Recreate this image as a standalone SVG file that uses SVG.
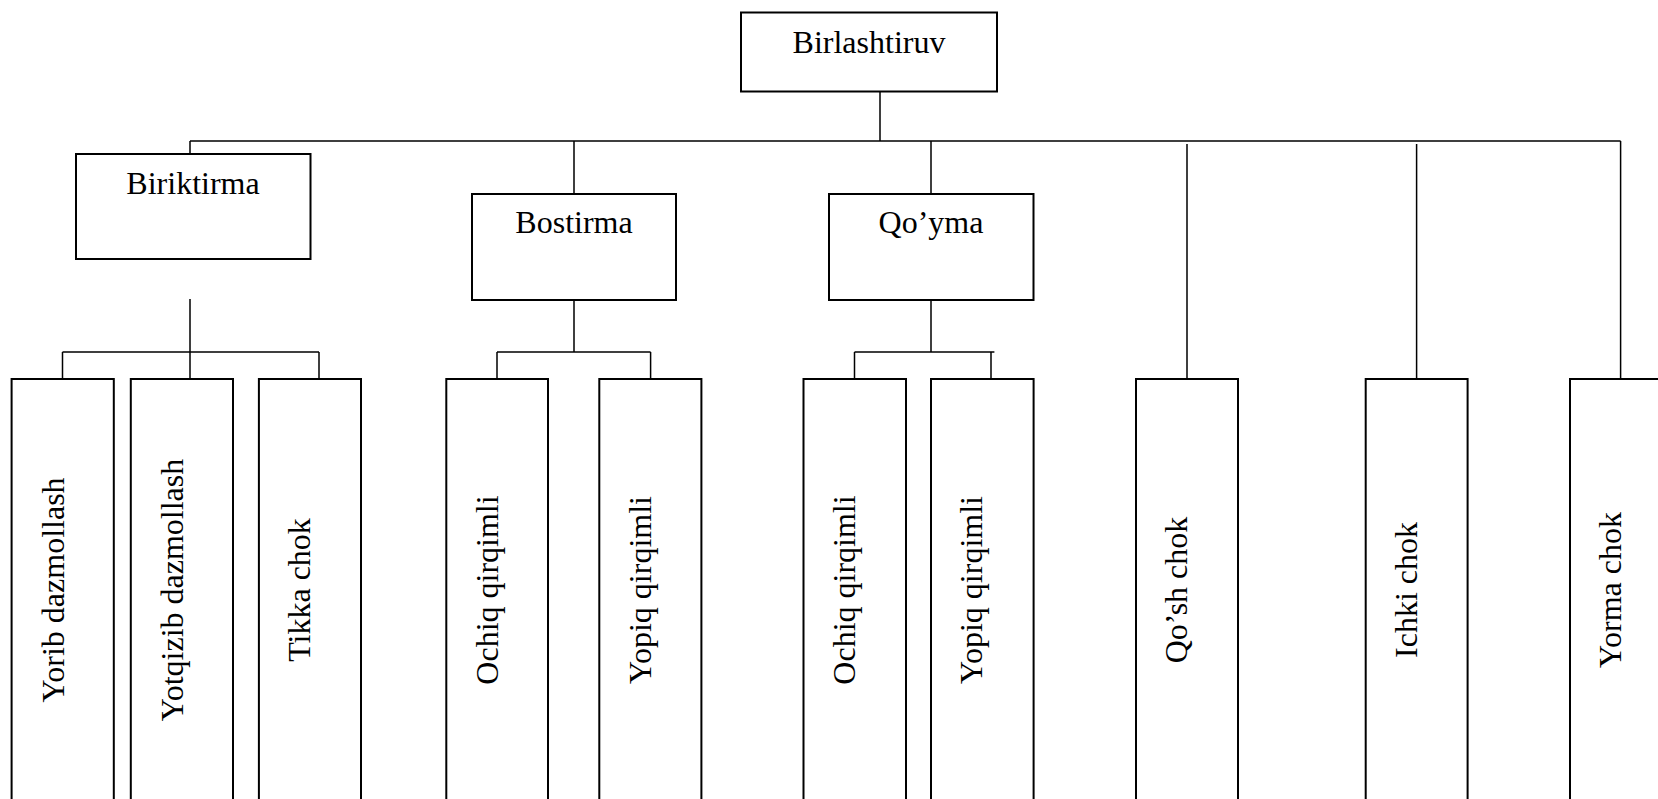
<svg xmlns="http://www.w3.org/2000/svg" width="1658" height="799" viewBox="0 0 1658 799">
<style>
.box{fill:#fff;stroke:#000;stroke-width:2}
.ln{fill:none;stroke:#000;stroke-width:1.5}
.t{font-family:"Liberation Serif","Times New Roman",serif;font-size:32px;fill:#000;text-anchor:middle}
</style>
<rect width="1658" height="799" fill="#fff"/>
<g id="connectors">
<path class="ln" d="M880,92 V141 M190,141 H1620.6 M190,141 V154 M574,141 V194 M931,141 V194 M1187,144 V379 M1416.6,144 V379 M1620.6,141 V379"/>
<path class="ln" d="M190,299 V352 M62.5,352 H319 M62.5,352 V379 M190,352 V379 M319,352 V379"/>
<path class="ln" d="M574,300 V352 M497,352 H650.6 M497,352 V379 M650.6,352 V379"/>
<path class="ln" d="M931,300 V352 M854.5,352 H994.4 M854.5,352 V379 M991,352 V379"/>
</g>
<g id="birlashtiruv"><rect class="box" x="741" y="12.5" width="256" height="79"/><text class="t" x="869" y="53">Birlashtiruv</text></g>
<g id="biriktirma"><rect class="box" x="76" y="154" width="234.5" height="105"/><text class="t" x="193" y="194">Biriktirma</text></g>
<g id="bostirma"><rect class="box" x="472" y="194" width="204" height="106"/><text class="t" x="574" y="233">Bostirma</text></g>
<g id="qoyma"><rect class="box" x="829" y="194" width="204.5" height="106"/><text class="t" x="931" y="233">Qo’yma</text></g>
<g id="yorib"><rect class="box" x="11.6" y="379" width="102.2" height="440"/><text class="t" transform="translate(64,590) rotate(-90)">Yorib dazmollash</text></g>
<g id="yotqizib"><rect class="box" x="130.8" y="379" width="102.2" height="440"/><text class="t" transform="translate(183,590) rotate(-90)">Yotqizib dazmollash</text></g>
<g id="tikka"><rect class="box" x="258.9" y="379" width="102.1" height="440"/><text class="t" transform="translate(310,590) rotate(-90)">Tikka chok</text></g>
<g id="ochiq1"><rect class="box" x="446.3" y="379" width="101.7" height="440"/><text class="t" transform="translate(498,590) rotate(-90)">Ochiq qirqimli</text></g>
<g id="yopiq1"><rect class="box" x="599.3" y="379" width="102.1" height="440"/><text class="t" transform="translate(651,590) rotate(-90)">Yopiq qirqimli</text></g>
<g id="ochiq2"><rect class="box" x="803.5" y="379" width="102.5" height="440"/><text class="t" transform="translate(855,590) rotate(-90)">Ochiq qirqimli</text></g>
<g id="yopiq2"><rect class="box" x="931" y="379" width="102.6" height="440"/><text class="t" transform="translate(982,590) rotate(-90)">Yopiq qirqimli</text></g>
<g id="qosh"><rect class="box" x="1136" y="379" width="102" height="440"/><text class="t" transform="translate(1187,590) rotate(-90)">Qo’sh chok</text></g>
<g id="ichki"><rect class="box" x="1365.7" y="379" width="101.9" height="440"/><text class="t" transform="translate(1417,590) rotate(-90)">Ichki chok</text></g>
<g id="yorma"><rect class="box" x="1570" y="379" width="102" height="440"/><text class="t" transform="translate(1621,590) rotate(-90)">Yorma chok</text></g>
</svg>
